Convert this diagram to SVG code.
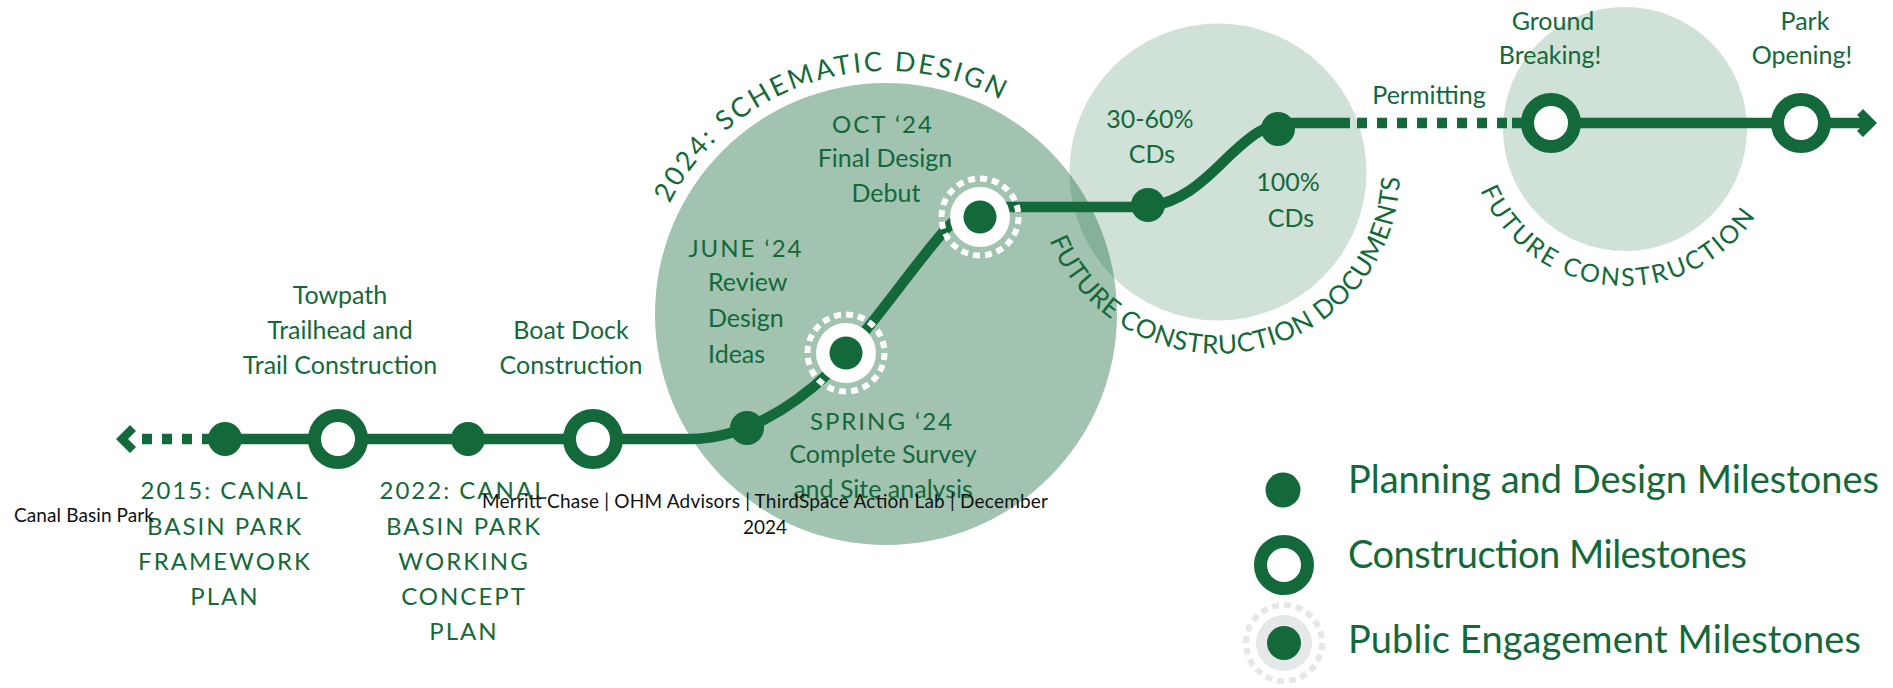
<svg xmlns="http://www.w3.org/2000/svg" xmlns:xlink="http://www.w3.org/1999/xlink" width="1893" height="688" viewBox="0 0 1893 688">
<style>
.t{font-family:Lato,'Liberation Sans',sans-serif;fill:#14693a;font-size:25px;text-anchor:middle}
.caps{font-size:24px;letter-spacing:2px}
.st{text-anchor:start}
.leg{font-size:38px;text-anchor:start}
.blk{fill:#111;font-size:19px}
.arc{font-size:26px;text-anchor:start}
.dot{fill:#14693a}
.ring{fill:#fff;stroke:#14693a;stroke-width:13}
.ln{fill:none;stroke:#14693a;stroke-width:10.5}
.dash{stroke-dasharray:10 10}
.eng-d{fill:none;stroke:#fff;stroke-width:6;stroke-dasharray:7 5}
</style>
<defs>
<path id="arc1" d="M 669.5 203.7 A 243 243 0 0 1 1014.8 107.9"/>
<path id="arc2" d="M 1049.3 240.2 A 182 182 0 0 0 1397.2 140.4"/>
<path id="arc3" d="M 1480.5 190.3 A 157 157 0 0 0 1756.7 214.5"/>
</defs>
<rect width="1893" height="688" fill="#fff"/>
<g id="phases">
<circle cx="886" cy="314" r="231" fill="#14693a" fill-opacity="0.4"/>
<circle cx="1218" cy="172" r="148.5" fill="#14693a" fill-opacity="0.2"/>
<circle cx="1625" cy="129" r="122" fill="#14693a" fill-opacity="0.2"/>
<text class="t arc" style="font-size:27px;letter-spacing:2.5px"><textPath xlink:href="#arc1">2024: SCHEMATIC DESIGN</textPath></text>
<text class="t arc" style="letter-spacing:0.5px"><textPath xlink:href="#arc2">FUTURE CONSTRUCTION DOCUMENTS</textPath></text>
<text class="t arc" style="font-size:25px;letter-spacing:2.2px"><textPath xlink:href="#arc3">FUTURE CONSTRUCTION</textPath></text>
</g>
<g id="connectors">
<polygon class="dot" points="116,439 130,425 136,431 128,439 136,447 130,453"/>
<line class="ln dash" x1="142" y1="439" x2="212" y2="439"/>
<path class="ln" d="M 212 439 H 690 C 740 439 790 410 830 372 C 870 330 910 270 945 230 C 960 213 975 207 995 207 H 1148 C 1180 202 1200 185 1225 160 C 1250 136 1265 123 1292 123 H 1350"/>
<line class="ln dash" x1="1357" y1="123" x2="1512" y2="123"/>
<line class="ln" x1="1512" y1="123" x2="1866" y2="123"/>
<polygon class="dot" points="1877,123 1863,109 1857,115 1865,123 1857,131 1863,137"/>
</g>
<g id="n2015">
<circle class="dot" cx="225" cy="439" r="17"/>
<text class="t caps" x="225" y="499">2015: CANAL</text>
<text class="t caps" x="225" y="535">BASIN PARK</text>
<text class="t caps" x="225" y="570">FRAMEWORK</text>
<text class="t caps" x="225" y="605">PLAN</text>
</g>
<g id="towpath">
<circle class="ring" cx="338" cy="439" r="23.5"/>
<text class="t" x="340" y="304">Towpath</text>
<text class="t" x="340" y="339">Trailhead and</text>
<text class="t" x="340" y="374">Trail Construction</text>
</g>
<g id="n2022">
<circle class="dot" cx="468" cy="439" r="17"/>
<text class="t caps" x="464" y="499">2022: CANAL</text>
<text class="t caps" x="464" y="535">BASIN PARK</text>
<text class="t caps" x="464" y="570">WORKING</text>
<text class="t caps" x="464" y="605">CONCEPT</text>
<text class="t caps" x="464" y="640">PLAN</text>
</g>
<g id="boatdock">
<circle class="ring" cx="593" cy="439" r="23.5"/>
<text class="t" x="571" y="339">Boat Dock</text>
<text class="t" x="571" y="374">Construction</text>
</g>
<g id="spring24">
<circle class="dot" cx="747" cy="428" r="17"/>
<text class="t caps" x="882" y="430">SPRING ‘24</text>
<text class="t" x="883" y="463">Complete Survey</text>
<text class="t" x="883" y="498">and Site analysis</text>
</g>
<g id="june24">
<circle cx="846" cy="353" r="38.5" class="eng-d" pathLength="240"/>
<circle cx="846" cy="353" r="30" fill="#fff"/>
<circle class="dot" cx="846" cy="353" r="16.5"/>
<text class="t caps" x="746" y="257">JUNE ‘24</text>
<text class="t st" x="708" y="291">Review</text>
<text class="t st" x="708" y="327">Design</text>
<text class="t st" x="708" y="363">Ideas</text>
</g>
<g id="oct24">
<circle cx="980" cy="217" r="38.5" class="eng-d" pathLength="240"/>
<circle cx="980" cy="217" r="30" fill="#fff"/>
<circle class="dot" cx="980" cy="217" r="16.5"/>
<text class="t caps" x="883" y="133">OCT ‘24</text>
<text class="t" x="885" y="167">Final Design</text>
<text class="t" x="886" y="202">Debut</text>
</g>
<g id="cd30">
<circle class="dot" cx="1148" cy="205" r="17"/>
<text class="t" x="1150" y="128">30-60%</text>
<text class="t" x="1152" y="163">CDs</text>
</g>
<g id="cd100">
<circle class="dot" cx="1278" cy="129" r="17"/>
<text class="t" x="1288" y="191">100%</text>
<text class="t" x="1291" y="227">CDs</text>
</g>
<g id="permitting">
<text class="t" x="1429" y="104">Permitting</text>
</g>
<g id="groundbreaking">
<circle class="ring" cx="1551" cy="123" r="23.5"/>
<text class="t" x="1553" y="30">Ground</text>
<text class="t" x="1550" y="64">Breaking!</text>
</g>
<g id="parkopening">
<circle class="ring" cx="1801" cy="123" r="23.5"/>
<text class="t" x="1805" y="30">Park</text>
<text class="t" x="1802" y="64">Opening!</text>
</g>
<g id="legend">
<circle class="dot" cx="1283" cy="490" r="17.5"/>
<text class="t leg" x="1348" y="493" textLength="531">Planning and Design Milestones</text>
<circle class="ring" cx="1284" cy="565" r="23.5"/>
<text class="t leg" x="1348" y="568" textLength="399">Construction Milestones</text>
<circle cx="1284" cy="643" r="38" fill="none" stroke="#e6e7e8" stroke-width="6" stroke-dasharray="7 5" pathLength="240"/>
<circle cx="1284" cy="643" r="28" fill="#e6e7e8"/>
<circle class="dot" cx="1284" cy="643" r="17"/>
<text class="t leg" x="1348" y="653" textLength="513">Public Engagement Milestones</text>
</g>
<g id="footer">
<text class="t blk st" x="14" y="522" textLength="140">Canal Basin Park</text>
<text class="t blk" x="765" y="508" textLength="566">Merritt Chase |  OHM Advisors |  ThirdSpace Action Lab |  December</text>
<text class="t blk" x="765" y="534">2024</text>
</g>
</svg>
